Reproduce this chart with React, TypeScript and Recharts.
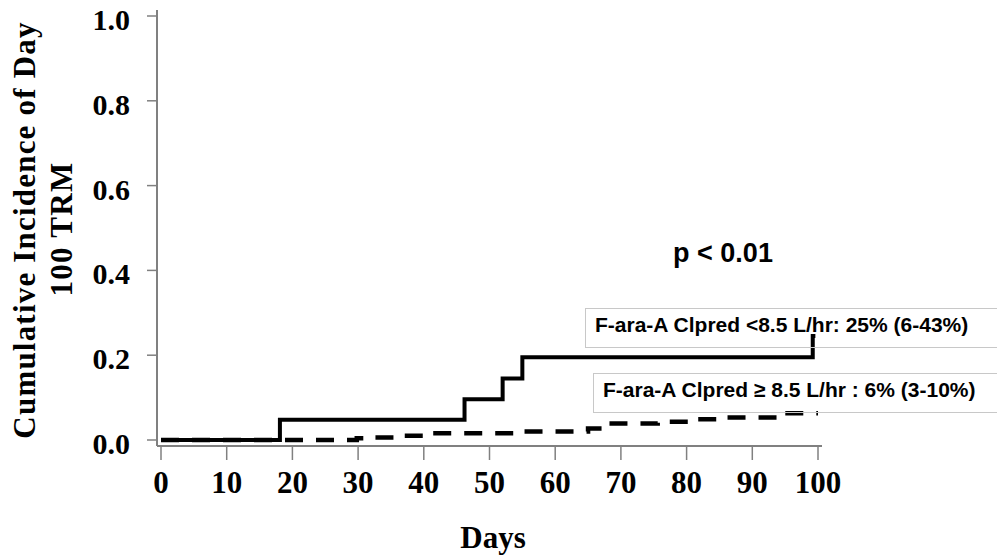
import React from "react";
import { LineChart, Line, XAxis, YAxis } from "recharts";

// Solid: F-ara-A Clpred < 8.5 L/hr
const solidDays = [0, 18.1, 46.2, 52, 55, 99.2, 99.6];
const solidValues = [0, 0.048, 0.096, 0.145, 0.195, 0.245, 0.245];

// Dashed: F-ara-A Clpred >= 8.5 L/hr
const dashedDays = [0, 29.8, 32, 37, 41, 55, 65, 68, 75.6, 80.5, 86, 95, 100];
const dashedValues = [0, 0.004, 0.006, 0.01, 0.016, 0.02, 0.027, 0.039, 0.043, 0.049, 0.053, 0.063, 0.063];

const xTicks = [0, 10, 20, 30, 40, 50, 60, 70, 80, 90, 100];
const yTicks = [0, 0.2, 0.4, 0.6, 0.8, 1.0];

const yLabelLines = ["Cumulative Incidence of Day", "100 TRM"];
const xLabel = "Days";
const pText = "p < 0.01";
const legendSolid = "F-ara-A Clpred <8.5 L/hr: 25% (6-43%)";
const legendDashed = "F-ara-A Clpred \u2265 8.5 L/hr : 6% (3-10%)";

const solidData = solidDays.map((d, i) => ({ day: d, v: solidValues[i] }));
const dashedData = dashedDays.map((d, i) => ({ day: d, v: dashedValues[i] }));

const SERIF = "'Liberation Serif', 'Times New Roman', serif";
const SANS = "'Liberation Sans', Arial, sans-serif";
const AXIS = "#808080";

const YTick = (props: any) => {
  const { x, y, payload } = props;
  return (
    <text x={x} y={y} dy={14} textAnchor="end" fontFamily={SERIF} fontWeight="bold" fontSize={30} fill="#000">
      {Number(payload.value).toFixed(1)}
    </text>
  );
};

const XTick = (props: any) => {
  const { x, y, payload } = props;
  return (
    <text x={x} y={y} dy={33} textAnchor="middle" fontFamily={SERIF} fontWeight="bold" fontSize={31} fill="#000">
      {payload.value}
    </text>
  );
};

const YLabel = () => (
  <g>
    <text
      x={35}
      y={230}
      transform="rotate(-90, 35, 230)"
      textAnchor="middle"
      fontFamily={SERIF}
      fontWeight="bold"
      fontSize={31}
      letterSpacing={1.2}
      fill="#000"
    >
      {yLabelLines[0]}
    </text>
    <text
      x={72}
      y={229}
      transform="rotate(-90, 72, 229)"
      textAnchor="middle"
      fontFamily={SERIF}
      fontWeight="bold"
      fontSize={31}
      letterSpacing={1.3}
      fill="#000"
    >
      {yLabelLines[1]}
    </text>
  </g>
);

const XLabel = () => (
  <text x={493} y={548} textAnchor="middle" fontFamily={SERIF} fontWeight="bold" fontSize={31} fill="#000">
    {xLabel}
  </text>
);

export default function App() {
  return (
    <div
      style={{
        position: "relative",
        width: 1005,
        height: 557,
        marginTop: -8,
        marginLeft: -8,
        marginRight: -8,
        marginBottom: 0,
        overflow: "hidden",
        background: "#fff",
      }}
    >
      <LineChart width={1005} height={557} margin={{ top: 10, right: 183, bottom: 0, left: 0 }}>
        <XAxis
          type="number"
          dataKey="day"
          domain={[0, 100]}
          ticks={xTicks}
          padding={{ left: 4, right: 4 }}
          height={111}
          tickSize={14}
          tickMargin={0}
          tick={<XTick />}
          axisLine={{ stroke: AXIS, strokeWidth: 2 }}
          tickLine={{ stroke: AXIS, strokeWidth: 1.5 }}
          label={<XLabel />}
          allowDataOverflow
        />
        <YAxis
          type="number"
          domain={[0, 1]}
          ticks={yTicks}
          padding={{ top: 6, bottom: 6 }}
          width={157}
          tickSize={10}
          tickMargin={17}
          tick={<YTick />}
          axisLine={{ stroke: AXIS, strokeWidth: 2 }}
          tickLine={{ stroke: AXIS, strokeWidth: 1.5 }}
          label={<YLabel />}
        />
        <Line
          data={dashedData}
          dataKey="v"
          type="stepAfter"
          stroke="#000"
          strokeWidth={4.5}
          strokeDasharray="18 13"
          dot={false}
          activeDot={false}
          isAnimationActive={false}
        />
        <Line
          data={solidData}
          dataKey="v"
          type="stepAfter"
          stroke="#000"
          strokeWidth={4}
          dot={false}
          activeDot={false}
          isAnimationActive={false}
        />
      </LineChart>
      <svg width={1005} height={557} style={{ position: "absolute", left: 0, top: 0, pointerEvents: "none" }}>
        <text x={723} y={262} textAnchor="middle" fontFamily={SANS} fontWeight="bold" fontSize={27} fill="#000">
          {pText}
        </text>
        <rect x={585.5} y={308.5} width={440} height={39} fill="none" stroke="#c8c8c8" strokeWidth={1} />
        <text x={595} y={332} fontFamily={SANS} fontWeight="bold" fontSize={21} fill="#000">
          {legendSolid}
        </text>
        <rect x={593.5} y={373.5} width={440} height={39} fill="none" stroke="#c8c8c8" strokeWidth={1} />
        <text x={603} y={397} fontFamily={SANS} fontWeight="bold" fontSize={21} fill="#000">
          {legendDashed}
        </text>
      </svg>
    </div>
  );
}
